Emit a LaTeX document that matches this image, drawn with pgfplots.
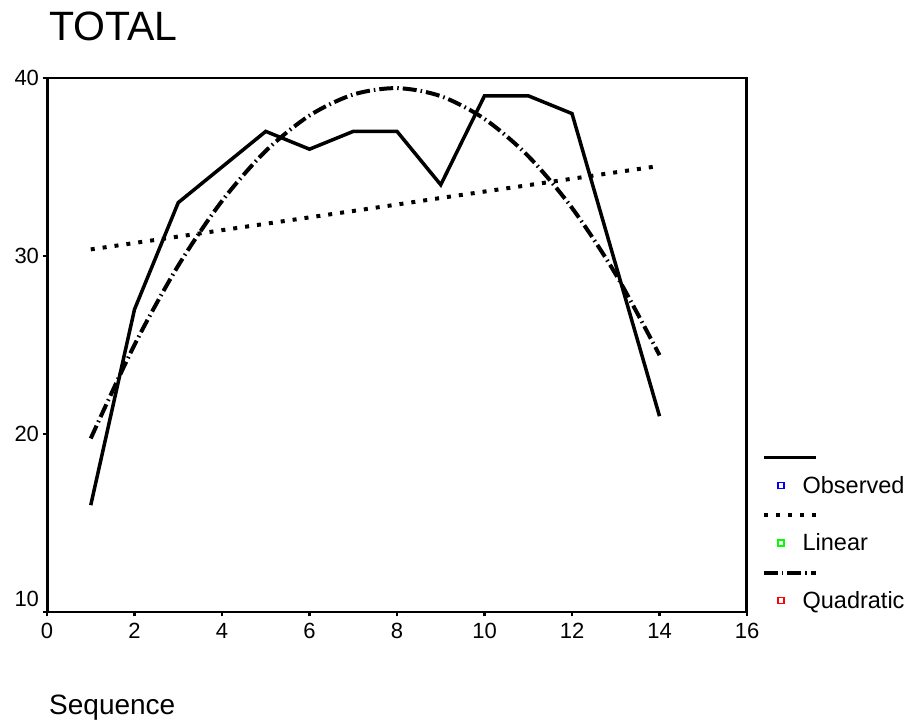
\documentclass[border=0pt]{standalone}
\usepackage{fontspec}
\setmainfont{Liberation Sans}
\usepackage{pgfplots}
\pgfplotsset{compat=1.18}
\begin{document}
\begin{tikzpicture}[x=1bp,y=1bp]
\useasboundingbox (0,0) rectangle (913,722);
\begin{axis}[
  at={(47bp,110bp)}, anchor=south west,
  scale only axis, width=700bp, height=534bp,
  xmin=0, xmax=16, ymin=10, ymax=40,
  xtick={0,2,...,16}, ytick={10,20,30,40},
  yticklabels={{\raisebox{13bp}[\height][\depth]{10}},20,30,40},
  tick align=outside, xtick pos=bottom, ytick pos=left,
  major tick length=4.5bp,
  tick style={black, line width=2.5bp},
  axis line style={line width=2.5bp},
  ticklabel style={font=\fontsize{22bp}{26bp}\selectfont},
  xticklabel style={yshift=-3bp},
  /pgf/number format/assume math mode=true,
  title={TOTAL},
  title style={font=\fontsize{41bp}{48bp}\selectfont, at={(axis description cs:0,1)}, anchor=base west, yshift=32bp, xshift=2bp, inner sep=0pt},
  xlabel={Sequence},
  xlabel style={font=\fontsize{28bp}{32bp}\selectfont, at={(axis description cs:0,0)}, anchor=base west, yshift=-103bp, xshift=2bp, inner sep=0pt},
  legend cell align=left,
  legend style={draw=none, fill=none, at={(axis description cs:1,0)}, anchor=south west, xshift=30bp, yshift=1bp,
    font=\fontsize{23.5bp}{28bp}\selectfont, row sep=37bp, column sep=17bp, inner sep=0pt,
    nodes={inner sep=1bp}},
]
\addplot[black, line width=3.5bp, solid,
  legend image code/.code={\draw[overlay, black, line width=3.5bp, solid] (-17bp,28bp) -- (35bp,28bp);
    \draw[blue, line width=1.4bp, solid] (-3bp,-3bp) rectangle (3bp,3bp);}]
  coordinates {(1,16) (2,27) (3,33) (4,35) (5,37) (6,36) (7,37) (8,37) (9,34) (10,39) (11,39) (12,38) (13,29.5) (14,21)};
\addlegendentry{Observed}
\addplot[black, line width=4bp, dash pattern=on 4bp off 8bp,
  legend image code/.code={\draw[overlay, black, line width=4bp, dash pattern=on 4bp off 8bp] (-17bp,28bp) -- (35bp,28bp);
    \draw[green, line width=1.4bp, solid] (-3bp,-3bp) rectangle (3bp,3bp);}]
  coordinates {(1,30.37) (2,30.73) (3,31.09) (4,31.45) (5,31.81) (6,32.17) (7,32.53) (8,32.89) (9,33.26) (10,33.62) (11,33.98) (12,34.34) (13,34.70) (14,35.06)};
\addlegendentry{Linear}
\addplot[black, line width=4bp, dash pattern=on 14bp off 4bp on 1.5bp off 4bp, smooth,
  legend image code/.code={\draw[overlay, black, line width=4bp, dash pattern=on 14bp off 4bp on 1.5bp off 4bp] (-17bp,28bp) -- (35bp,28bp);
    \draw[red, line width=1.4bp, solid] (-3bp,-3bp) rectangle (3bp,3bp);}]
  coordinates {(1,19.75) (2,25.01) (3,29.46) (4,33.09) (5,35.90) (6,37.89) (7,39.07) (8,39.43) (9,38.98) (10,37.70) (11,35.61) (12,32.70) (13,28.97) (14,24.43)};
\addlegendentry{Quadratic}
\draw[line width=4.5bp] (axis description cs:0,0) -- (axis description cs:0,1);
\draw[line width=5bp] (axis description cs:1,0) -- (axis description cs:1,1);
\end{axis}
\end{tikzpicture}
\end{document}
